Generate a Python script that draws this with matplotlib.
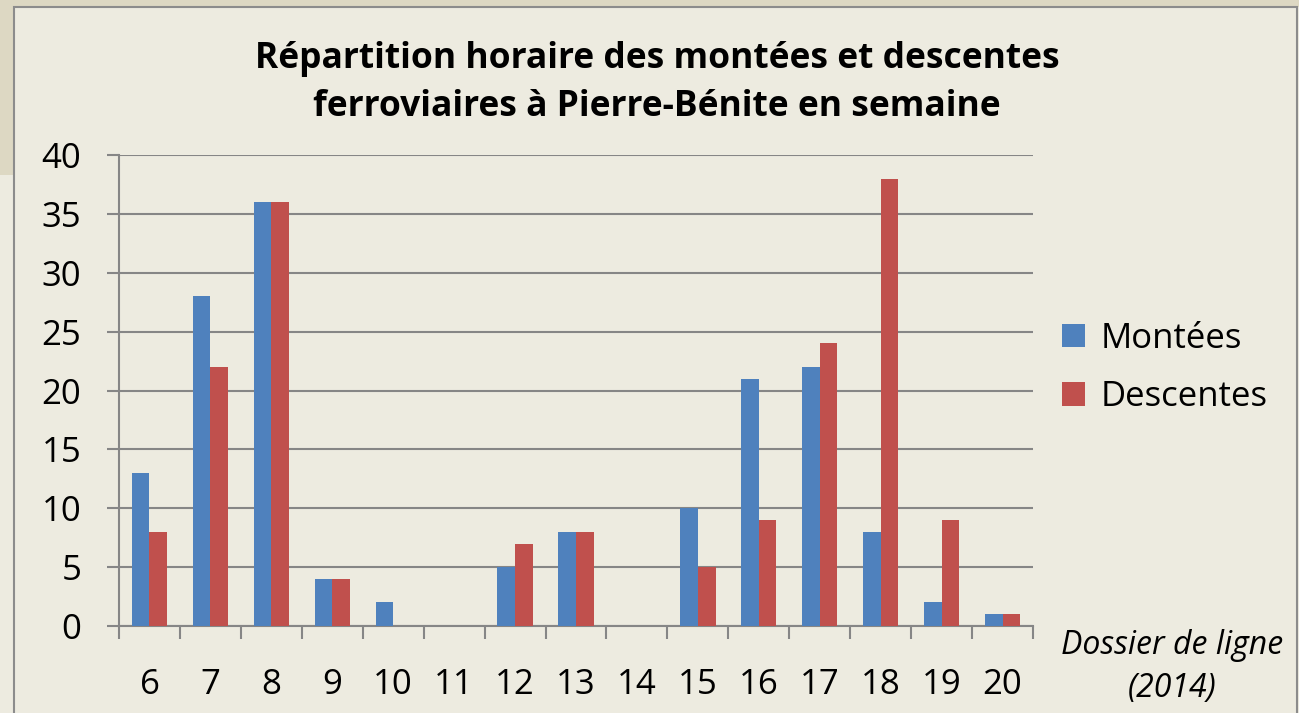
import numpy as np
import matplotlib.pyplot as plt
from matplotlib.patches import Rectangle

# donnees
heures = ['6', '7', '8', '9', '10', '11', '12', '13', '14', '15', '16', '17', '18', '19', '20']
montees = [13, 28, 36, 4, 2, 0, 5, 8, 0, 10, 21, 22, 8, 2, 1]
descentes = [8, 22, 36, 4, 0, 0, 7, 8, 0, 5, 9, 24, 38, 9, 1]

plt.rcParams['font.family'] = ['Open Sans', 'DejaVu Sans']

W, H = 1299, 713
fig = plt.figure(figsize=(W/100, H/100), dpi=100)
fig.patch.set_facecolor('#EDEBE0')

# bandes beige du fond et cadre du graphique
fig.patches.append(Rectangle((0, 1 - 7/H), 1, 7/H, transform=fig.transFigure,
                             facecolor='#DDD8C3', edgecolor='none', zorder=-3))
fig.patches.append(Rectangle((0, 1 - 175/H), 14/W, 175/H, transform=fig.transFigure,
                             facecolor='#DDD8C3', edgecolor='none', zorder=-3))
fig.patches.append(Rectangle((14/W, -0.05), (1297-14)/W, 1 - 7/H + 0.05, transform=fig.transFigure,
                             facecolor='#EDEBE0', edgecolor='#8C8C8C', lw=1.5, zorder=-2))

ax = fig.add_axes([119/W, (H-626)/H, (1033-119)/W, (626-155)/H])
ax.set_facecolor('none')

x = np.arange(len(heures))
w = 0.29
b1 = ax.bar(x - w/2, montees, w, color='#4F81BD', label='Montées', zorder=3)
b2 = ax.bar(x + w/2, descentes, w, color='#C0504D', label='Descentes', zorder=3)

ax.set_xlim(-0.5, len(heures) - 0.5)
ax.set_ylim(0, 40)
ax.set_yticks(range(0, 41, 5))
ax.yaxis.grid(True, color='#868686', lw=1.5, zorder=0)
ax.set_axisbelow(True)

ax.set_xticks(x)
ax.set_xticklabels(heures)
ax.set_xticks(np.arange(-0.5, len(heures)), minor=True)
ax.tick_params(axis='x', which='major', length=0, pad=30, labelsize=25)
ax.tick_params(axis='x', which='minor', length=9, width=1.5, color='#868686', direction='out')
ax.tick_params(axis='y', length=9, width=1.5, color='#868686', pad=18, labelsize=25)

for s in ['top', 'right']:
    ax.spines[s].set_visible(False)
for s in ['left', 'bottom']:
    ax.spines[s].set_color('#868686')
    ax.spines[s].set_linewidth(1.5)

fig.text(657/W, 1 - 83/H, 'Répartition horaire des montées et descentes\nferroviaires à Pierre-Bénite en semaine',
         ha='center', va='center', fontsize=25.5, fontweight='bold', linespacing=1.45)

leg = fig.legend(handles=[b1, b2], loc='center left', bbox_to_anchor=(1062/W, 1 - 368/H),
                 frameon=False, fontsize=25, handlelength=0.65, handleheight=0.65,
                 handletextpad=0.45, labelspacing=0.7, borderpad=0, borderaxespad=0)

fig.text(1172/W, 1 - 667/H, 'Dossier de ligne\n(2014)', ha='center', va='center',
         fontsize=23, style='italic', linespacing=1.4)

fig.savefig('out.png', dpi=100, facecolor=fig.get_facecolor())
